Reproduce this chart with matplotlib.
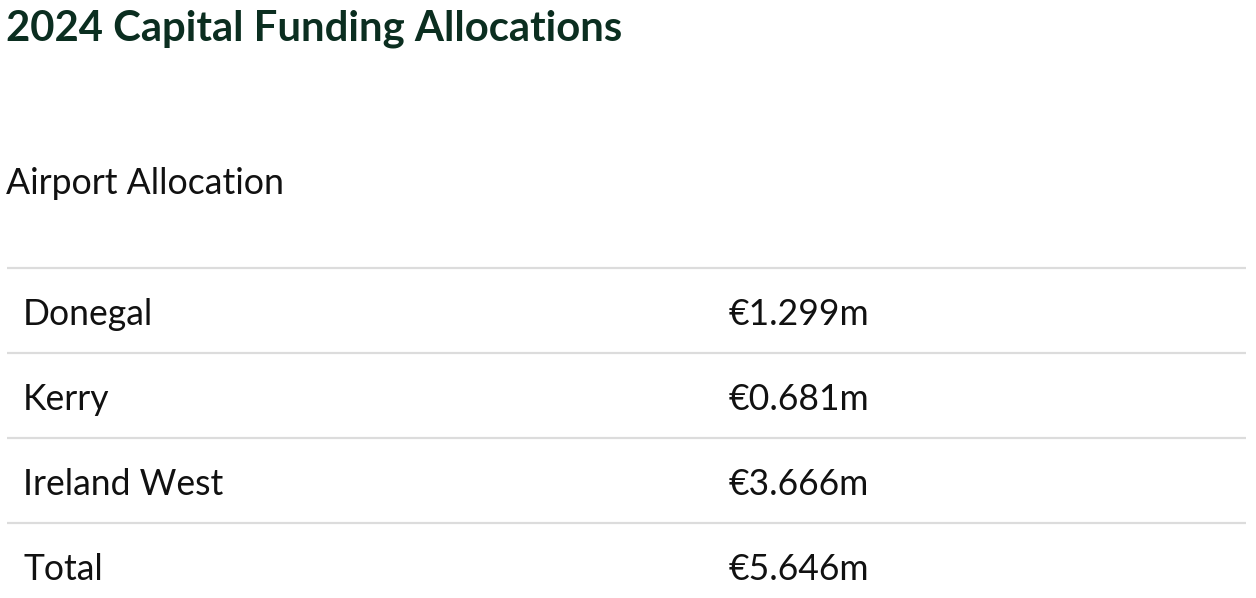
import matplotlib
matplotlib.use('Agg')
import matplotlib.pyplot as plt

title = '2024 Capital Funding Allocations'
subtitle = 'Airport Allocation'
airports = ['Donegal', 'Kerry', 'Ireland West', 'Total']
amounts = [1.299, 0.681, 3.666, 5.646]

W, H = 1256, 598
fig = plt.figure(figsize=(W / 100, H / 100), dpi=100)
ax = fig.add_axes([0, 0, 1, 1])
ax.set_xlim(0, W)
ax.set_ylim(H, 0)
ax.axis('off')

font = ['Lato', 'DejaVu Sans']
ax.text(6, 40, title, fontsize=30.2, fontweight='bold', color='#0b2e20',
        family=font, va='baseline')
ax.text(6, 194, subtitle, fontsize=25.7, color='#111111', family=font,
        va='baseline')

row_top = 268
row_h = 85
for i, (name, amt) in enumerate(zip(airports, amounts)):
    y = row_top + i * row_h
    ax.plot([7, 1246], [y, y], color='#dcdcdc', lw=1.6, solid_capstyle='butt')
    base = y + 57
    ax.text(23, base, name, fontsize=25.6, color='#111111', family=font,
            va='baseline')
    ax.text(729, base, '€{:.3f}m'.format(amt), fontsize=25.6, color='#111111',
            family=font, va='baseline')

fig.savefig('out.png', dpi=100, facecolor='white')
